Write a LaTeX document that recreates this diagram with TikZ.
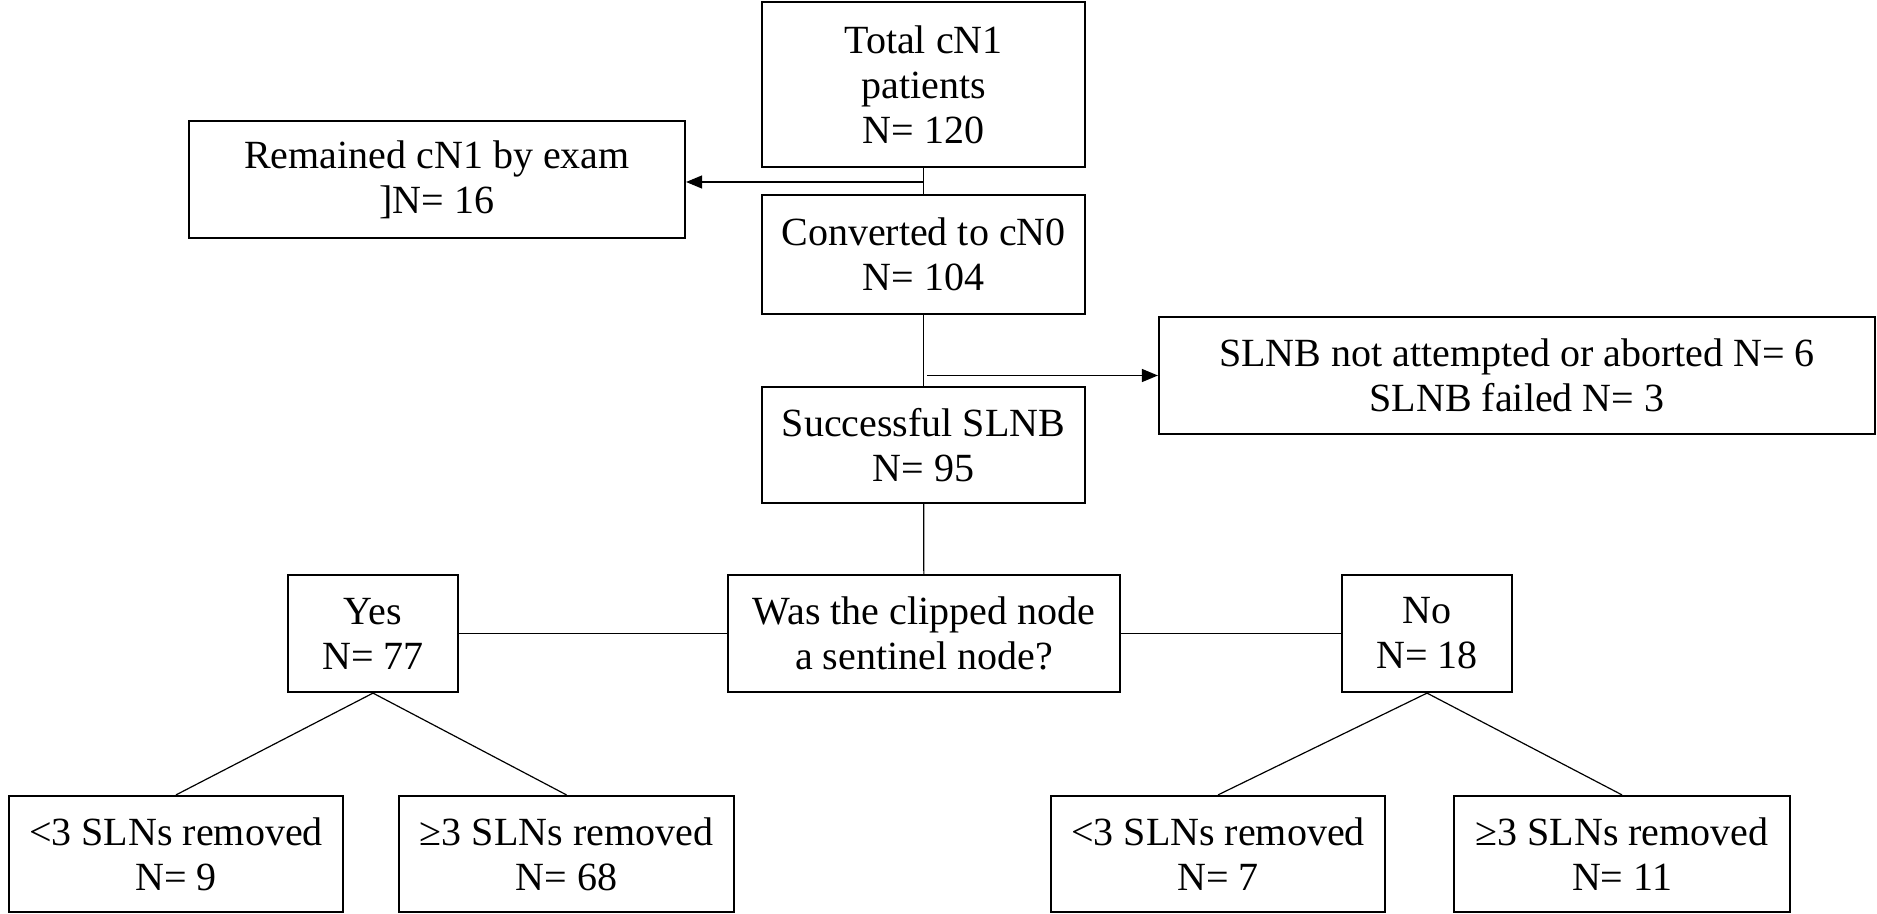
\documentclass[tikz,border=0pt]{standalone}
\usepackage{fontspec}
\setmainfont{Liberation Serif}
\usetikzlibrary{arrows.meta}
\begin{document}
\begin{tikzpicture}[x=0.5pt,y=-0.5pt,
  box/.style={draw, line width=1.1pt, inner sep=0pt, align=center,
    font=\fontsize{20pt}{22.5pt}\selectfont},
  conn/.style={line width=0.6pt},
  arr/.style={conn, -{Triangle[length=8pt,width=6.5pt]}}]
\useasboundingbox[fill=white] (0,0) rectangle (1877,914);
% boxes
\node[box, minimum width=161.5pt, minimum height=82.5pt] (total) at (923.5,84.5) {Total cN1\\patients\\N= 120};
\node[box, minimum width=248pt, minimum height=58.5pt] (remained) at (437,179.5) {Remained cN1 by exam\\{]}N= 16};
\node[box, minimum width=161.5pt, minimum height=59.5pt] (converted) at (923.5,254.5) {Converted to cN0\\N= 104};
\node[box, minimum width=358pt, minimum height=58.5pt] (slnb) at (1517,375.5) {SLNB not attempted or aborted N= 6\\SLNB failed N= 3};
\node[box, minimum width=161.5pt, minimum height=58pt] (success) at (923.5,445) {Successful SLNB\\N= 95};
\node[box, minimum width=196pt, minimum height=58.5pt] (was) at (924,633.5) {Was the clipped node\\a sentinel node?};
\node[box, minimum width=85pt, minimum height=58.5pt] (yes) at (373,633.5) {Yes\\N= 77};
\node[box, minimum width=85pt, minimum height=58.5pt] (no) at (1427,633.5) {No\\N= 18};
\node[box, minimum width=167pt, minimum height=58pt] (l1) at (176,854) {<3 SLNs removed\\N= 9};
\node[box, minimum width=167.5pt, minimum height=58pt] (l2) at (566.5,854) {≥3 SLNs removed\\N= 68};
\node[box, minimum width=167pt, minimum height=58pt] (r1) at (1218,854) {<3 SLNs removed\\N= 7};
\node[box, minimum width=168pt, minimum height=58pt] (r2) at (1622,854) {≥3 SLNs removed\\N= 11};
% connectors
\draw[conn] (total) -- (converted);
\coordinate (j1) at (923.5,182);
\draw[arr] (j1) -- (j1 -| remained.east);
\draw[conn] (converted) -- (success);
\coordinate (j2) at (927,375.5);
\draw[arr] (j2) -- (slnb.west);
\draw[conn] (success) -- (was);
\draw[conn] (was) -- (yes);
\draw[conn] (was) -- (no);
\draw[conn] (yes.south) -- (l1.north);
\draw[conn] (yes.south) -- (l2.north);
\draw[conn] (no.south) -- (r1.north);
\draw[conn] (no.south) -- (r2.north);
\end{tikzpicture}
\end{document}
